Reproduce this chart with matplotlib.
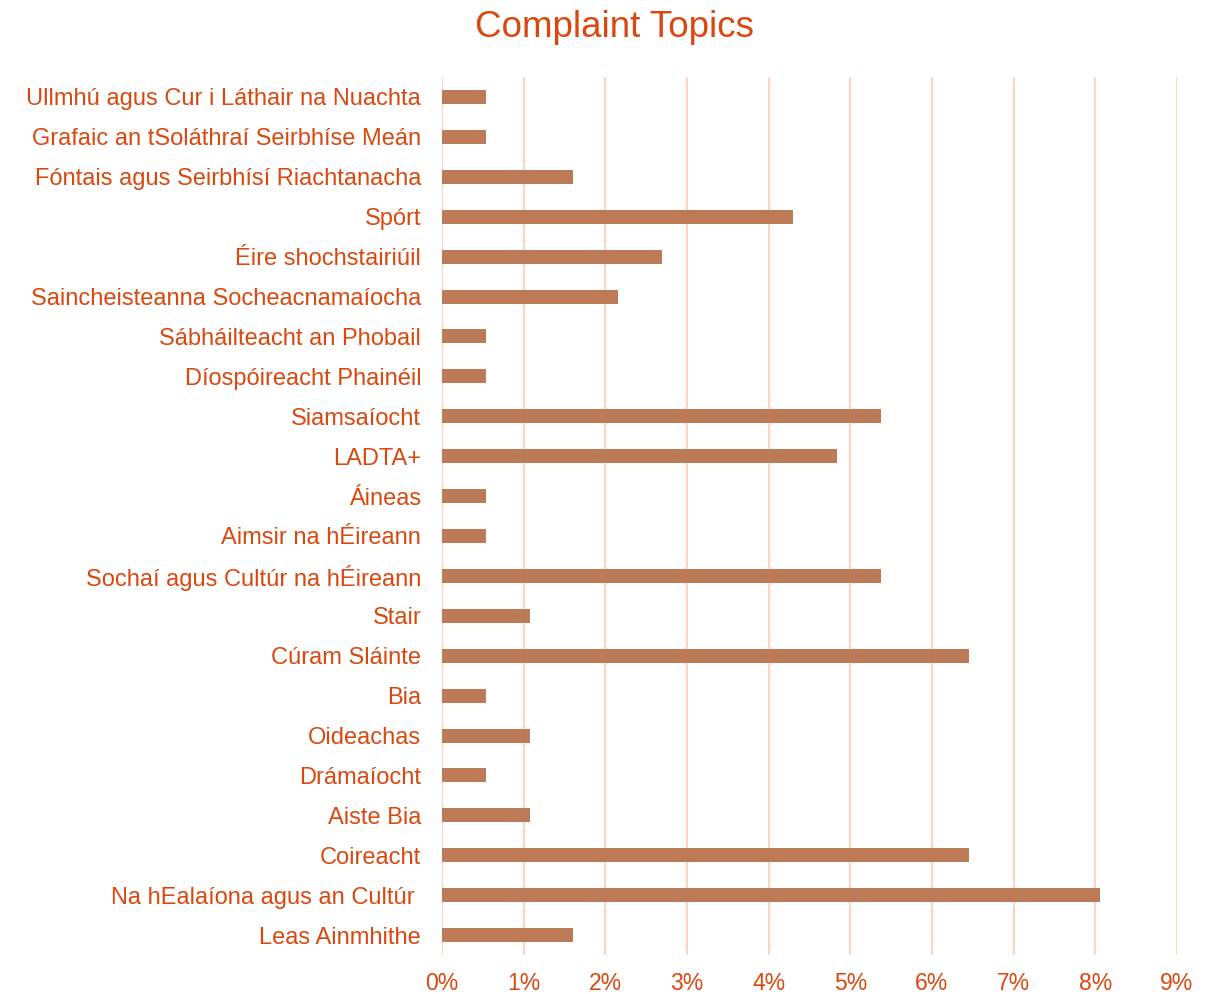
import matplotlib.pyplot as plt
from matplotlib.ticker import PercentFormatter

plt.rcParams['font.family'] = ['Liberation Sans', 'DejaVu Sans']

# topics, top to bottom as in the chart
topics = ['Ullmhú agus Cur i Láthair na Nuachta',
          'Grafaic an tSoláthraí Seirbhíse Meán',
          'Fóntais agus Seirbhísí Riachtanacha',
          'Spórt',
          'Éire shochstairiúil',
          'Saincheisteanna Socheacnamaíocha',
          'Sábháilteacht an Phobail',
          'Díospóireacht Phainéil',
          'Siamsaíocht',
          'LADTA+',
          'Áineas',
          'Aimsir na hÉireann',
          'Sochaí agus Cultúr na hÉireann',
          'Stair',
          'Cúram Sláinte',
          'Bia',
          'Oideachas',
          'Drámaíocht',
          'Aiste Bia',
          'Coireacht',
          'Na hEalaíona agus an Cultúr ',
          'Leas Ainmhithe']
share = [0.54, 0.54, 1.61, 4.30, 2.69, 2.15, 0.54, 0.54, 5.38, 4.84, 0.54,
         0.54, 5.38, 1.08, 6.45, 0.54, 1.08, 0.54, 1.08, 6.45, 8.06, 1.61]
xticks = list(range(0, 10))

text_col = '#D9480F'
bar_col = '#BC7A56'
grid_col = '#FFD5C2'

fig = plt.figure(figsize=(12.17, 9.94), dpi=100)
ax = fig.add_axes([0.3632, 0.0392, 0.6039, 0.8833])

pos = list(range(len(topics)))[::-1]
ax.barh(pos, share, height=0.35, color=bar_col, zorder=3)

ax.set_xlim(0, 9)
ax.set_ylim(-0.5, len(topics) - 0.5)
ax.set_xticks(xticks)
ax.xaxis.set_major_formatter(PercentFormatter(decimals=0))
ax.set_yticks(pos)
ax.set_yticklabels(topics)
ax.grid(axis='x', color=grid_col, linewidth=1.5, zorder=0)
for s in ax.spines.values():
    s.set_visible(False)
ax.tick_params(axis='y', length=0, pad=15, labelsize=17, labelcolor=text_col)
ax.tick_params(axis='x', length=0, pad=12, labelsize=16.5, labelcolor=text_col)

fig.text(0.505, 0.972, 'Complaint Topics', ha='center', va='center',
         fontsize=26.5, color=text_col)

fig.savefig('out.png', dpi=100)
